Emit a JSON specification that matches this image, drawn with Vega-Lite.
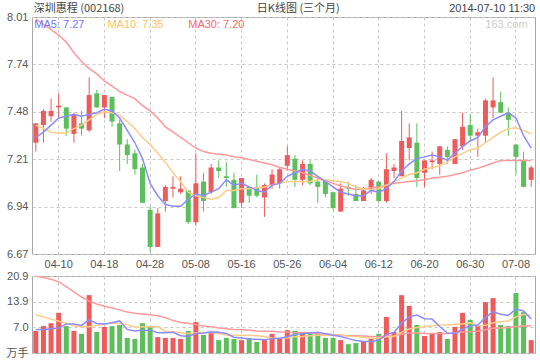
{
  "$schema": "https://vega.github.io/schema/vega-lite/v6.json",
  "autosize": {"type": "pad"},
  "padding": {"left": 5, "top": 2, "right": 0, "bottom": 0},
  "background": "white",
  "spacing": 22,
  "bounds": "flush",
  "config": {
    "view": {"stroke": "#a8a8a8", "strokeWidth": 1},
    "font": "Liberation Sans",
    "axis": {
      "labelFont": "Liberation Sans, Noto Sans CJK SC",
      "labelFontSize": 11,
      "labelColor": "#555555",
      "domain": false,
      "ticks": false,
      "gridColor": "#c8c8c8",
      "gridDash": [3, 3],
      "gridWidth": 1,
      "title": null,
      "labelOverlap": false
    }
  },
  "datasets": {
    "k": [
      {"d":"04-04","o":7.30,"c":7.41,"h":7.41,"l":7.25,"v":6.0,"m5":7.33,"m10":7.40,"m30":8.00,"vm5":6.4,"vm10":10.4,"vm30":20.8},
      {"d":"04-08","o":7.40,"c":7.48,"h":7.49,"l":7.30,"v":7.3,"m5":7.36,"m10":7.38,"m30":7.97,"vm5":6.4,"vm10":9.8,"vm30":20.5},
      {"d":"04-09","o":7.45,"c":7.48,"h":7.55,"l":7.42,"v":8.1,"m5":7.40,"m10":7.36,"m30":7.94,"vm5":6.6,"vm10":9.2,"vm30":20.0},
      {"d":"04-10","o":7.50,"c":7.51,"h":7.58,"l":7.44,"v":10.9,"m5":7.44,"m10":7.355,"m30":7.91,"vm5":6.8,"vm10":8.6,"vm30":19.3},
      {"d":"04-11","o":7.50,"c":7.38,"h":7.50,"l":7.34,"v":7.3,"m5":7.45,"m10":7.355,"m30":7.87,"vm5":7.9,"vm10":8.0,"vm30":18.0},
      {"d":"04-14","o":7.35,"c":7.46,"h":7.47,"l":7.30,"v":6.0,"m5":7.46,"m10":7.38,"m30":7.81,"vm5":7.9,"vm10":7.4,"vm30":16.6},
      {"d":"04-15","o":7.41,"c":7.38,"h":7.48,"l":7.34,"v":5.2,"m5":7.45,"m10":7.40,"m30":7.76,"vm5":7.5,"vm10":7.1,"vm30":15.2},
      {"d":"04-16","o":7.37,"c":7.57,"h":7.67,"l":7.36,"v":15.7,"m5":7.46,"m10":7.43,"m30":7.72,"vm5":9.0,"vm10":7.1,"vm30":14.1},
      {"d":"04-17","o":7.58,"c":7.50,"h":7.60,"l":7.50,"v":5.7,"m5":7.47,"m10":7.46,"m30":7.69,"vm5":8.0,"vm10":7.5,"vm30":13.3},
      {"d":"04-18","o":7.50,"c":7.57,"h":7.57,"l":7.44,"v":7.1,"m5":7.49,"m10":7.475,"m30":7.65,"vm5":7.9,"vm10":7.9,"vm30":12.7},
      {"d":"04-21","o":7.56,"c":7.42,"h":7.56,"l":7.39,"v":7.3,"m5":7.48,"m10":7.47,"m30":7.62,"vm5":8.2,"vm10":8.1,"vm30":12.2},
      {"d":"04-22","o":7.41,"c":7.29,"h":7.43,"l":7.14,"v":7.6,"m5":7.44,"m10":7.455,"m30":7.59,"vm5":8.7,"vm10":8.1,"vm30":11.7},
      {"d":"04-23","o":7.29,"c":7.23,"h":7.32,"l":7.18,"v":4.1,"m5":7.37,"m10":7.42,"m30":7.57,"vm5":6.4,"vm10":7.7,"vm30":11.1},
      {"d":"04-24","o":7.24,"c":7.15,"h":7.26,"l":7.12,"v":3.8,"m5":7.30,"m10":7.38,"m30":7.55,"vm5":6.0,"vm10":7.0,"vm30":10.8},
      {"d":"04-25","o":7.16,"c":6.96,"h":7.18,"l":6.96,"v":8.1,"m5":7.21,"m10":7.33,"m30":7.51,"vm5":6.2,"vm10":7.1,"vm30":10.6},
      {"d":"04-28","o":6.92,"c":6.71,"h":6.94,"l":6.68,"v":7.3,"m5":7.07,"m10":7.29,"m30":7.48,"vm5":6.2,"vm10":7.2,"vm30":10.4},
      {"d":"04-29","o":6.71,"c":6.90,"h":6.93,"l":6.71,"v":4.3,"m5":7.00,"m10":7.24,"m30":7.44,"vm5":5.5,"vm10":7.1,"vm30":10.1},
      {"d":"04-30","o":6.97,"c":7.05,"h":7.06,"l":6.91,"v":4.1,"m5":6.95,"m10":7.19,"m30":7.39,"vm5":5.5,"vm10":5.9,"vm30":9.6},
      {"d":"05-05","o":7.04,"c":7.05,"h":7.11,"l":6.99,"v":4.1,"m5":6.94,"m10":7.13,"m30":7.36,"vm5":5.6,"vm10":5.8,"vm30":8.8},
      {"d":"05-06","o":7.02,"c":7.04,"h":7.11,"l":7.01,"v":3.8,"m5":6.94,"m10":7.08,"m30":7.33,"vm5":4.7,"vm10":5.5,"vm30":8.3},
      {"d":"05-07","o":7.03,"c":6.85,"h":7.03,"l":6.84,"v":6.0,"m5":6.98,"m10":7.02,"m30":7.30,"vm5":4.5,"vm10":5.3,"vm30":8.1},
      {"d":"05-08","o":6.85,"c":7.07,"h":7.24,"l":6.83,"v":8.4,"m5":7.01,"m10":7.00,"m30":7.27,"vm5":5.3,"vm10":5.4,"vm30":7.7},
      {"d":"05-09","o":7.08,"c":6.97,"h":7.13,"l":6.91,"v":4.9,"m5":7.00,"m10":6.99,"m30":7.25,"vm5":5.4,"vm10":5.5,"vm30":7.3},
      {"d":"05-12","o":7.02,"c":7.16,"h":7.18,"l":7.01,"v":5.4,"m5":7.02,"m10":6.98,"m30":7.24,"vm5":5.7,"vm10":5.6,"vm30":7.1},
      {"d":"05-13","o":7.16,"c":7.14,"h":7.20,"l":7.10,"v":3.5,"m5":7.04,"m10":6.99,"m30":7.235,"vm5":5.6,"vm10":5.2,"vm30":6.8},
      {"d":"05-14","o":7.11,"c":7.10,"h":7.19,"l":7.05,"v":4.1,"m5":7.09,"m10":7.03,"m30":7.23,"vm5":5.3,"vm10":4.9,"vm30":6.6},
      {"d":"05-15","o":7.09,"c":6.93,"h":7.13,"l":6.93,"v":3.8,"m5":7.06,"m10":7.03,"m30":7.22,"vm5":4.3,"vm10":4.8,"vm30":6.4},
      {"d":"05-16","o":6.96,"c":7.10,"h":7.10,"l":6.93,"v":3.5,"m5":7.07,"m10":7.04,"m30":7.215,"vm5":4.1,"vm10":4.8,"vm30":6.3},
      {"d":"05-19","o":7.05,"c":7.00,"h":7.05,"l":6.96,"v":4.1,"m5":7.05,"m10":7.04,"m30":7.205,"vm5":3.8,"vm10":4.8,"vm30":6.2},
      {"d":"05-20","o":7.05,"c":7.00,"h":7.12,"l":6.99,"v":3.0,"m5":7.03,"m10":7.045,"m30":7.195,"vm5":3.7,"vm10":4.7,"vm30":6.0},
      {"d":"05-21","o":6.99,"c":7.06,"h":7.07,"l":6.88,"v":3.8,"m5":7.02,"m10":7.05,"m30":7.185,"vm5":3.6,"vm10":4.5,"vm30":5.9},
      {"d":"05-22","o":7.06,"c":7.12,"h":7.15,"l":7.04,"v":5.2,"m5":7.06,"m10":7.06,"m30":7.175,"vm5":3.9,"vm10":4.1,"vm30":5.9},
      {"d":"05-23","o":7.07,"c":7.15,"h":7.16,"l":7.04,"v":3.9,"m5":7.07,"m10":7.07,"m30":7.16,"vm5":4.0,"vm10":4.0,"vm30":5.7},
      {"d":"05-26","o":7.17,"c":7.23,"h":7.28,"l":7.14,"v":6.2,"m5":7.11,"m10":7.08,"m30":7.15,"vm5":4.4,"vm10":4.1,"vm30":5.6},
      {"d":"05-27","o":7.21,"c":7.09,"h":7.23,"l":7.05,"v":6.0,"m5":7.13,"m10":7.08,"m30":7.14,"vm5":5.0,"vm10":4.4,"vm30":5.5},
      {"d":"05-28","o":7.09,"c":7.18,"h":7.20,"l":7.06,"v":5.4,"m5":7.15,"m10":7.08,"m30":7.13,"vm5":5.3,"vm10":4.5,"vm30":5.5},
      {"d":"05-29","o":7.18,"c":7.07,"h":7.20,"l":7.06,"v":5.4,"m5":7.14,"m10":7.08,"m30":7.115,"vm5":5.4,"vm10":4.7,"vm30":5.5},
      {"d":"05-30","o":7.08,"c":7.05,"h":7.10,"l":6.96,"v":5.2,"m5":7.11,"m10":7.09,"m30":7.10,"vm5":5.6,"vm10":4.8,"vm30":5.2},
      {"d":"06-03","o":7.09,"c":7.01,"h":7.09,"l":6.99,"v":4.1,"m5":7.08,"m10":7.09,"m30":7.085,"vm5":5.2,"vm10":4.8,"vm30":5.1},
      {"d":"06-04","o":7.02,"c":6.93,"h":7.02,"l":6.92,"v":4.1,"m5":7.05,"m10":7.085,"m30":7.07,"vm5":4.8,"vm10":4.9,"vm30":5.0},
      {"d":"06-05","o":6.91,"c":7.04,"h":7.07,"l":6.91,"v":3.5,"m5":7.02,"m10":7.08,"m30":7.055,"vm5":4.5,"vm10":4.9,"vm30":4.9},
      {"d":"06-06","o":7.05,"c":7.04,"h":7.08,"l":7.00,"v":2.4,"m5":7.01,"m10":7.07,"m30":7.045,"vm5":3.9,"vm10":4.6,"vm30":4.7},
      {"d":"06-09","o":7.01,"c":6.97,"h":7.06,"l":6.97,"v":2.7,"m5":7.00,"m10":7.05,"m30":7.035,"vm5":3.4,"vm10":4.5,"vm30":4.7},
      {"d":"06-10","o":6.97,"c":7.03,"h":7.05,"l":6.97,"v":3.0,"m5":7.00,"m10":7.04,"m30":7.04,"vm5":3.1,"vm10":4.2,"vm30":4.6},
      {"d":"06-11","o":7.03,"c":7.09,"h":7.10,"l":7.01,"v":4.1,"m5":7.03,"m10":7.035,"m30":7.045,"vm5":3.1,"vm10":4.0,"vm30":4.5},
      {"d":"06-12","o":7.08,"c":6.97,"h":7.08,"l":6.96,"v":5.2,"m5":7.02,"m10":7.04,"m30":7.05,"vm5":3.5,"vm10":4.0,"vm30":4.4},
      {"d":"06-13","o":6.97,"c":7.15,"h":7.24,"l":6.96,"v":9.8,"m5":7.04,"m10":7.06,"m30":7.06,"vm5":5.0,"vm10":4.4,"vm30":4.6},
      {"d":"06-16","o":7.14,"c":7.16,"h":7.18,"l":7.10,"v":5.7,"m5":7.08,"m10":7.08,"m30":7.07,"vm5":5.6,"vm10":4.5,"vm30":4.7},
      {"d":"06-17","o":7.11,"c":7.31,"h":7.48,"l":7.11,"v":15.7,"m5":7.14,"m10":7.10,"m30":7.075,"vm5":8.1,"vm10":5.6,"vm30":5.1},
      {"d":"06-18","o":7.27,"c":7.33,"h":7.41,"l":7.20,"v":12.8,"m5":7.18,"m10":7.12,"m30":7.08,"vm5":9.8,"vm10":6.5,"vm30":5.4},
      {"d":"06-19","o":7.30,"c":7.10,"h":7.41,"l":7.05,"v":7.6,"m5":7.21,"m10":7.13,"m30":7.085,"vm5":10.3,"vm10":6.9,"vm30":5.4},
      {"d":"06-20","o":7.13,"c":7.20,"h":7.20,"l":7.05,"v":4.6,"m5":7.22,"m10":7.15,"m30":7.09,"vm5":9.3,"vm10":7.1,"vm30":5.3},
      {"d":"06-23","o":7.19,"c":7.20,"h":7.25,"l":7.15,"v":5.2,"m5":7.23,"m10":7.16,"m30":7.10,"vm5":9.2,"vm10":7.4,"vm30":5.3},
      {"d":"06-24","o":7.18,"c":7.28,"h":7.28,"l":7.12,"v":5.7,"m5":7.22,"m10":7.17,"m30":7.105,"vm5":7.2,"vm10":7.6,"vm30":5.3},
      {"d":"06-25","o":7.26,"c":7.22,"h":7.28,"l":7.18,"v":3.8,"m5":7.20,"m10":7.19,"m30":7.11,"vm5":5.4,"vm10":7.6,"vm30":5.3},
      {"d":"06-26","o":7.18,"c":7.32,"h":7.32,"l":7.18,"v":7.1,"m5":7.24,"m10":7.22,"m30":7.12,"vm5":5.3,"vm10":7.8,"vm30":5.4},
      {"d":"06-27","o":7.28,"c":7.39,"h":7.47,"l":7.26,"v":10.9,"m5":7.28,"m10":7.24,"m30":7.13,"vm5":6.5,"vm10":7.9,"vm30":5.7},
      {"d":"06-30","o":7.40,"c":7.34,"h":7.46,"l":7.31,"v":9.0,"m5":7.31,"m10":7.26,"m30":7.145,"vm5":7.3,"vm10":8.2,"vm30":5.8},
      {"d":"07-01","o":7.34,"c":7.36,"h":7.38,"l":7.22,"v":7.3,"m5":7.33,"m10":7.27,"m30":7.155,"vm5":7.6,"vm10":7.4,"vm30":5.9},
      {"d":"07-02","o":7.34,"c":7.54,"h":7.55,"l":7.30,"v":13.8,"m5":7.39,"m10":7.30,"m30":7.17,"vm5":9.6,"vm10":7.5,"vm30":6.3},
      {"d":"07-03","o":7.50,"c":7.54,"h":7.67,"l":7.44,"v":14.9,"m5":7.43,"m10":7.33,"m30":7.185,"vm5":11.2,"vm10":8.2,"vm30":6.7},
      {"d":"07-04","o":7.53,"c":7.47,"h":7.59,"l":7.47,"v":7.6,"m5":7.45,"m10":7.36,"m30":7.20,"vm5":10.5,"vm10":8.5,"vm30":6.8},
      {"d":"07-07","o":7.47,"c":7.43,"h":7.50,"l":7.34,"v":7.3,"m5":7.47,"m10":7.38,"m30":7.20,"vm5":10.2,"vm10":8.7,"vm30":6.9},
      {"d":"07-08","o":7.29,"c":7.22,"h":7.29,"l":7.12,"v":16.3,"m5":7.44,"m10":7.385,"m30":7.20,"vm5":12.0,"vm10":9.8,"vm30":7.2},
      {"d":"07-09","o":7.20,"c":7.05,"h":7.25,"l":7.05,"v":11.1,"m5":7.34,"m10":7.37,"m30":7.20,"vm5":11.4,"vm10":10.5,"vm30":7.4},
      {"d":"07-10","o":7.09,"c":7.16,"h":7.17,"l":7.05,"v":3.5,"m5":7.27,"m10":7.35,"m30":7.20,"vm5":9.2,"vm10":10.2,"vm30":7.3}
    ]
  },
  "vconcat": [
    {
      "width": 503,
      "height": 237,
      "encoding": {
        "x": {
          "field": "d", "type": "ordinal",
          "scale": {"paddingInner": 0, "paddingOuter": 0},
          "axis": {
            "values": ["04-10","04-18","04-28","05-08","05-16","05-26","06-04","06-12","06-20","06-30","07-08"],
            "labelAngle": 0, "labelPadding": 4, "grid": true
          }
        }
      },
      "layer": [
        {
          "data": {"name": "k"},
          "mark": {"type": "rule", "strokeWidth": 1},
          "encoding": {
            "y": {
              "field": "l", "type": "quantitative",
              "scale": {"domain": [6.67, 8.012], "nice": false, "zero": false},
              "axis": {"values": [6.67, 6.9384, 7.2068, 7.4752, 7.7436, 8.012], "tickCount": 12, "format": ".2f", "grid": true, "labelPadding": 4}
            },
            "y2": {"field": "h"},
            "color": {"condition": {"test": "datum.c >= datum.o", "value": "#ef5a5a"}, "value": "#5cbf5c"}
          }
        },
        {
          "data": {"name": "k"},
          "mark": {"type": "bar", "size": 5},
          "encoding": {
            "y": {"field": "o", "type": "quantitative"},
            "y2": {"field": "c"},
            "color": {"condition": {"test": "datum.c >= datum.o", "value": "#ef5a5a"}, "value": "#5cbf5c"}
          }
        },
        {
          "data": {"name": "k"},
          "mark": {"type": "line", "color": "#ff9a9a", "strokeWidth": 1.5},
          "encoding": {"y": {"field": "m30", "type": "quantitative"}}
        },
        {
          "data": {"name": "k"},
          "mark": {"type": "line", "color": "#ffcc88", "strokeWidth": 1.5},
          "encoding": {"y": {"field": "m10", "type": "quantitative"}}
        },
        {
          "data": {"name": "k"},
          "mark": {"type": "line", "color": "#8c8cff", "strokeWidth": 1.5},
          "encoding": {"y": {"field": "m5", "type": "quantitative"}}
        },
        {
          "data": {"values": [{"t": "深圳惠程 (002168)", "d": "04-04", "p": 8.057}]},
          "mark": {"type": "text", "align": "left", "baseline": "middle", "dx": -2, "font": "Noto Sans CJK SC", "fontSize": 11, "color": "#444444"},
          "encoding": {"text": {"field": "t"}, "y": {"field": "p", "type": "quantitative"}}
        },
        {
          "data": {"values": [{"t": "日K线图 (三个月)", "d": "05-20", "p": 8.057}]},
          "mark": {"type": "text", "align": "left", "baseline": "middle", "font": "Noto Sans CJK SC", "fontSize": 11, "color": "#444444"},
          "encoding": {"text": {"field": "t"}, "y": {"field": "p", "type": "quantitative"}}
        },
        {
          "data": {"values": [{"t": "2014-07-10 11:30", "d": "07-10", "p": 8.057}]},
          "mark": {"type": "text", "align": "right", "baseline": "middle", "dx": 4, "font": "Liberation Sans", "fontSize": 11, "color": "#444444"},
          "encoding": {"text": {"field": "t"}, "y": {"field": "p", "type": "quantitative"}}
        },
        {
          "data": {"values": [{"t": "MA5: 7.27", "d": "04-04", "p": 7.968}]},
          "mark": {"type": "text", "align": "left", "baseline": "middle", "dx": -1.5, "font": "Liberation Sans", "fontSize": 11, "color": "#7373ff"},
          "encoding": {"text": {"field": "t"}, "y": {"field": "p", "type": "quantitative"}}
        },
        {
          "data": {"values": [{"t": "MA10: 7.35", "d": "04-18", "p": 7.968}]},
          "mark": {"type": "text", "align": "left", "baseline": "middle", "dx": 3, "font": "Liberation Sans", "fontSize": 11, "color": "#ffbf66"},
          "encoding": {"text": {"field": "t"}, "y": {"field": "p", "type": "quantitative"}}
        },
        {
          "data": {"values": [{"t": "MA30: 7.20", "d": "05-07", "p": 7.968}]},
          "mark": {"type": "text", "align": "left", "baseline": "middle", "font": "Liberation Sans", "fontSize": 11, "color": "#f26b6b"},
          "encoding": {"text": {"field": "t"}, "y": {"field": "p", "type": "quantitative"}}
        },
        {
          "data": {"values": [{"t": "163.com", "d": "07-09", "p": 7.968}]},
          "mark": {"type": "text", "align": "right", "baseline": "middle", "dx": 4, "font": "Liberation Sans", "fontSize": 11, "color": "#cccccc"},
          "encoding": {"text": {"field": "t"}, "y": {"field": "p", "type": "quantitative"}}
        }
      ]
    },
    {
      "width": 503,
      "height": 77,
      "data": {"name": "k"},
      "encoding": {
        "x": {
          "field": "d", "type": "ordinal",
          "scale": {"paddingInner": 0, "paddingOuter": 0},
          "axis": {
            "values": ["04-10","04-18","04-28","05-08","05-16","05-26","06-04","06-12","06-20","06-30","07-08"],
            "labels": false, "grid": true
          }
        }
      },
      "layer": [
        {
          "mark": {"type": "bar", "size": 5},
          "encoding": {
            "y": {
              "field": "v", "type": "quantitative",
              "stack": null,
              "scale": {"domain": [0, 20.9], "nice": false, "zero": true},
              "axis": {"values": [0, 6.97, 13.93, 20.9], "tickCount": 10, "format": ".1f", "labelExpr": "datum.label == '0.0' ? '万手' : datum.label", "grid": true, "labelPadding": 4, "labelOverlap": false}
            },
            "color": {"condition": {"test": "datum.c >= datum.o", "value": "#ef5a5a"}, "value": "#5cbf5c"}
          }
        },
        {
          "mark": {"type": "line", "color": "#ff9a9a", "strokeWidth": 1.5},
          "encoding": {"y": {"field": "vm30", "type": "quantitative"}}
        },
        {
          "mark": {"type": "line", "color": "#ffcc88", "strokeWidth": 1.5},
          "encoding": {"y": {"field": "vm10", "type": "quantitative"}}
        },
        {
          "mark": {"type": "line", "color": "#8c8cff", "strokeWidth": 1.5},
          "encoding": {"y": {"field": "vm5", "type": "quantitative"}}
        }
      ]
    }
  ]
}
